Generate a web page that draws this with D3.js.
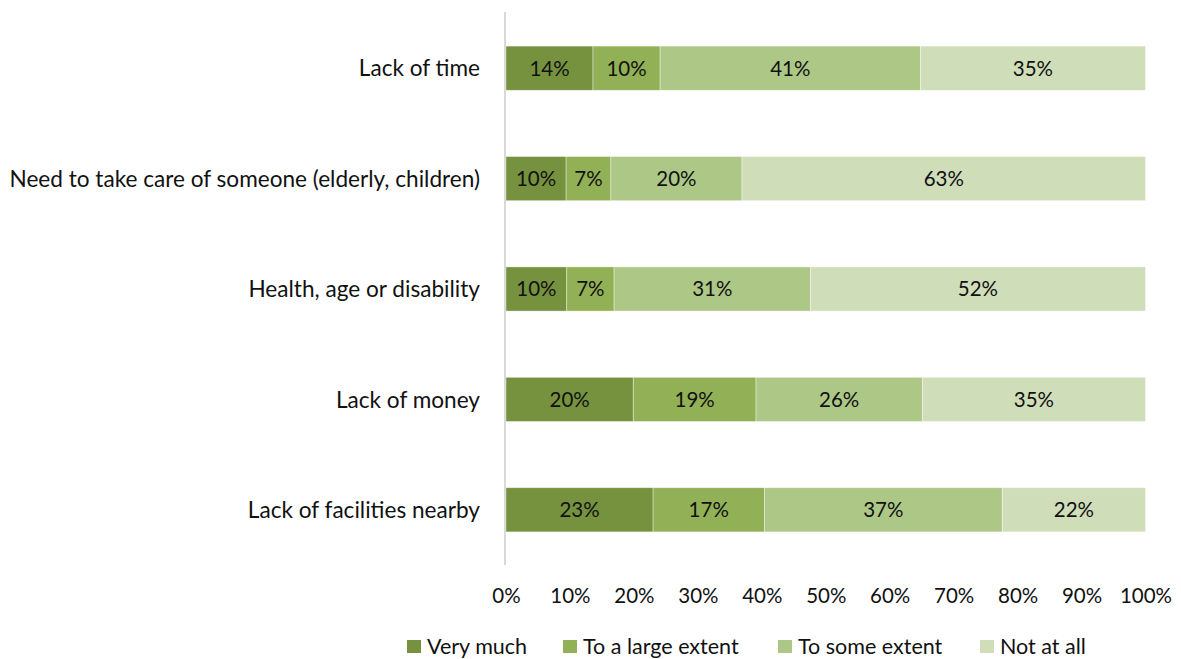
<!DOCTYPE html>
<html><head><meta charset="utf-8">
<script src="https://cdn.jsdelivr.net/npm/d3@7"></script>
<style>body{margin:0;background:#fff}svg{display:block}text{font-family:Lato,"Open Sans",sans-serif}</style>
</head><body>
<svg id="c" width="1181" height="659"></svg>
<script>
const categories = ["Lack of time","Need to take care of someone (elderly, children)","Health, age or disability","Lack of money","Lack of facilities nearby"];
const seriesNames = ["Very much","To a large extent","To some extent","Not at all"];
const veryMuch   = [13.6, 9.4, 9.5, 19.9, 23.0];
const largeExt   = [10.5, 7.0, 7.4, 19.2, 17.4];
const someExt    = [40.7, 20.5, 30.7, 26.0, 37.2];
const notAtAll   = [35.2, 63.1, 52.4, 34.9, 22.4];
const labels = [
  ["14%","10%","41%","35%"],
  ["10%","7%","20%","63%"],
  ["10%","7%","31%","52%"],
  ["20%","19%","26%","35%"],
  ["23%","17%","37%","22%"]
];
const tickValues = [0,10,20,30,40,50,60,70,80,90,100];
const colors = ["#77923f","#92b055","#adc886","#cfddb9"];

const svg = d3.select("#c");
const x = d3.scaleLinear().domain([0,100]).range([506,1145.5]);
const y = d3.scaleBand().domain(categories).range([13,565]).paddingInner(0.6).paddingOuter(0.3);

const series = [veryMuch, largeExt, someExt, notAtAll];
categories.forEach((cat,i)=>{
  let acc = 0;
  series.forEach((s,k)=>{
    const v = s[i];
    const x0 = x(acc), x1 = x(acc+v);
    svg.append("rect").attr("x",x0).attr("y",y(cat)).attr("width",x1-x0).attr("height",y.bandwidth())
      .attr("fill",colors[k]).attr("stroke","#ffffff").attr("stroke-width",0.75).attr("stroke-opacity",0.5);
    svg.append("text").attr("x",(x0+x1)/2).attr("y",y(cat)+y.bandwidth()/2).attr("dy","0.36em")
      .attr("text-anchor","middle").attr("font-size",20.5).attr("fill","#111").text(labels[i][k]);
    acc += v;
  });
});

// vertical axis line
svg.append("line").attr("x1",505).attr("x2",505).attr("y1",12).attr("y2",565).attr("stroke","#d9d9d9").attr("stroke-width",2);

// category labels
const yAxis = d3.axisLeft(y).tickSize(0).tickPadding(25);
const ga = svg.append("g").attr("transform","translate(505,0)").call(yAxis);
ga.select(".domain").remove();
ga.selectAll("text").attr("font-size",22.6).attr("fill","#111").attr("dy","0.36em").style("font-family","Lato,'Open Sans',sans-serif");

// x axis tick labels
const xAxis = d3.axisBottom(x).tickValues(tickValues).tickFormat(d=>d+"%").tickSize(0).tickPadding(0);
const gx = svg.append("g").attr("transform","translate(0,596)").call(xAxis);
gx.select(".domain").remove();
gx.selectAll("text").attr("y",0).attr("dy","0.36em").attr("font-size",20.5).attr("fill","#111").style("font-family","Lato,'Open Sans',sans-serif");

// legend
const legendX = [407, 563, 778, 980];
seriesNames.forEach((n,k)=>{
  svg.append("rect").attr("x",legendX[k]).attr("y",640).attr("width",14).attr("height",13).attr("fill",colors[k]);
  svg.append("text").attr("x",legendX[k]+20).attr("y",646).attr("dy","0.36em").attr("font-size",21.5).attr("fill","#111").text(n);
});
</script>
</body></html>
